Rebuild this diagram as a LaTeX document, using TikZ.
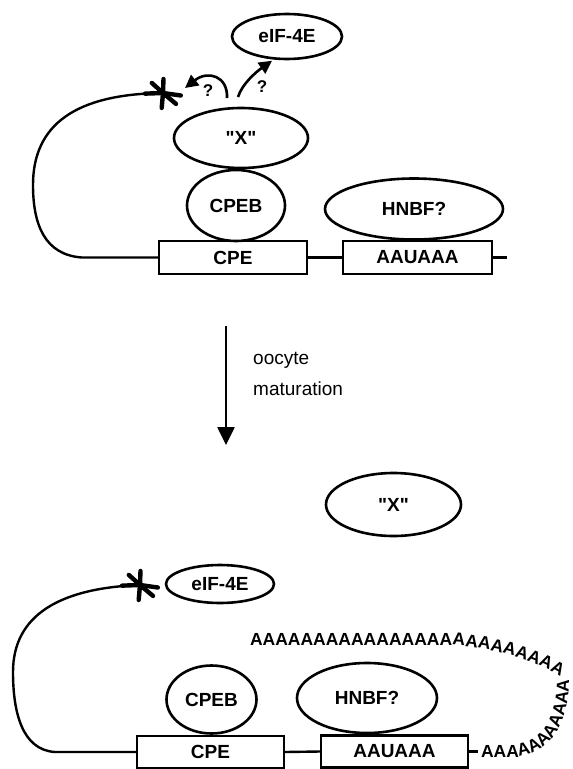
\documentclass[tikz,border=0pt]{standalone}
\usepackage{fontspec}
\setmainfont{Liberation Sans}[Ligatures=TeXOff]
\usetikzlibrary{shapes.geometric,arrows.meta,decorations.text}
\begin{document}
\begin{tikzpicture}[x=1pt,y=-1pt,
  prot/.style={draw, ellipse, line width=2.6pt, inner sep=0pt, font=\fontsize{19}{22}\selectfont\bfseries},
  boxnode/.style={draw, rectangle, line width=2.4pt, inner sep=0pt, font=\fontsize{19}{22}\selectfont\bfseries},
  strand/.style={line width=2.4pt},
  astline/.style={line width=4.4pt, line cap=round},
  qarrow/.style={line width=2.6pt, -{Triangle[length=13pt,width=13pt]}},
  qmark/.style={font=\fontsize{17}{20}\selectfont\bfseries, inner sep=0pt},
  lbl/.style={font=\fontsize{19}{22}\selectfont, inner sep=0pt, anchor=west},
  tail/.style={decorate, decoration={text along path, text align=left,
     text={|\fontsize{17.5}{20}\selectfont\bfseries|#1}}}
]
\useasboundingbox (0,0) rectangle (573,769);

% ---------------- top panel ----------------
\node[boxnode, minimum width=148pt, minimum height=33pt] (cpe1) at (233,257.5) {CPE};
\node[boxnode, minimum width=149pt, minimum height=33pt] (aau1) at (417.5,257.5) {AAUAAA};
\node[prot, minimum width=178pt, minimum height=61pt] (hnbf1) at (414,209) {HNBF?};
\node[prot, minimum width=98pt, minimum height=71pt] (cpeb1) at (236,205.5) {CPEB};
\node[prot, minimum width=134pt, minimum height=60pt] (x1) at (241,138) {"X"};
\node[prot, minimum width=110pt, minimum height=45pt] (eif1) at (287,36.5) {eIF-4E};

\coordinate (ast1) at (163,93);
\foreach \a/\r in {8/18, 40/17, 95/15, 178/18, 222/15, 272/14}
  \draw[astline] (ast1) -- ++(\a:\r);

\coordinate (end1) at (507,257.5);
\draw[strand] (cpe1.east) -- (aau1.west);
\draw[strand] (aau1.east) -- (end1);
\draw[strand] (cpe1.west) -- (82,257.5)
  .. controls (45,255) and (33,225) .. (33,185)
  .. controls (33,125) and (75,94) .. (ast1);

\coordinate (qa1) at (227,98);
\coordinate (qa1end) at (185,88);
\coordinate (qb1) at (238,97);
\draw[qarrow] (qa1) .. controls (228,76) and (208,70) .. (qa1end);
\draw[qarrow, shorten >=2pt] (qb1) .. controls (242,84) and (256,72) .. (eif1.240);
\node[qmark] (q1) at (208,91) {?};
\node[qmark] (q2) at (262,87) {?};

% ---------------- middle arrow ----------------
\coordinate (ma) at (226,326);
\coordinate (mb) at (226,445);
\draw[line width=2.6pt, -{Triangle[length=18pt,width=17pt]}] (ma) -- (mb);
\node[lbl] (t1) at (253,360) {oocyte};
\node[lbl] (t2) at (253,389) {maturation};

% ---------------- bottom panel ----------------
\node[prot, minimum width=135pt, minimum height=63pt] (x2) at (393.5,504.5) {"X"};
\node[prot, minimum width=108pt, minimum height=38pt] (eif2) at (220,584) {eIF-4E};
\node[prot, minimum width=90pt, minimum height=68pt] (cpeb2) at (211.5,699.5) {CPEB};
\node[prot, minimum width=140pt, minimum height=70pt] (hnbf2) at (367,698) {HNBF?};
\node[boxnode, minimum width=147pt, minimum height=32pt] (cpe2) at (210.5,752) {CPE};
\node[boxnode, minimum width=147pt, minimum height=32pt] (aau2) at (394.5,751.5) {AAUAAA};

\coordinate (ast2) at (140,585);
\foreach \a/\r in {8/18, 40/17, 95/15, 178/18, 222/15, 272/14}
  \draw[astline] (ast2) -- ++(\a:\r);

\coordinate (end2) at (478,751.5);
\draw[strand] (cpe2.east) -- (aau2.west);
\draw[strand] (aau2.east) -- (end2);
\draw[strand] (cpe2.west) -- (55,752)
  .. controls (22,750) and (13,712) .. (13,672)
  .. controls (13,615) and (60,588) .. (ast2);

% poly(A) tail
\path[tail={AAAAAAAAAAAAAAAAAAAAAAAAAAAA}]
  (250,645) -- (452,645) .. controls (492,648) and (530,658) .. (560,676);
\path[tail={AAAAAAAAAAAAAAAA}]
  (481,757) -- (515,757) .. controls (544,755) and (569,732) .. (569,678);
\end{tikzpicture}
\end{document}
